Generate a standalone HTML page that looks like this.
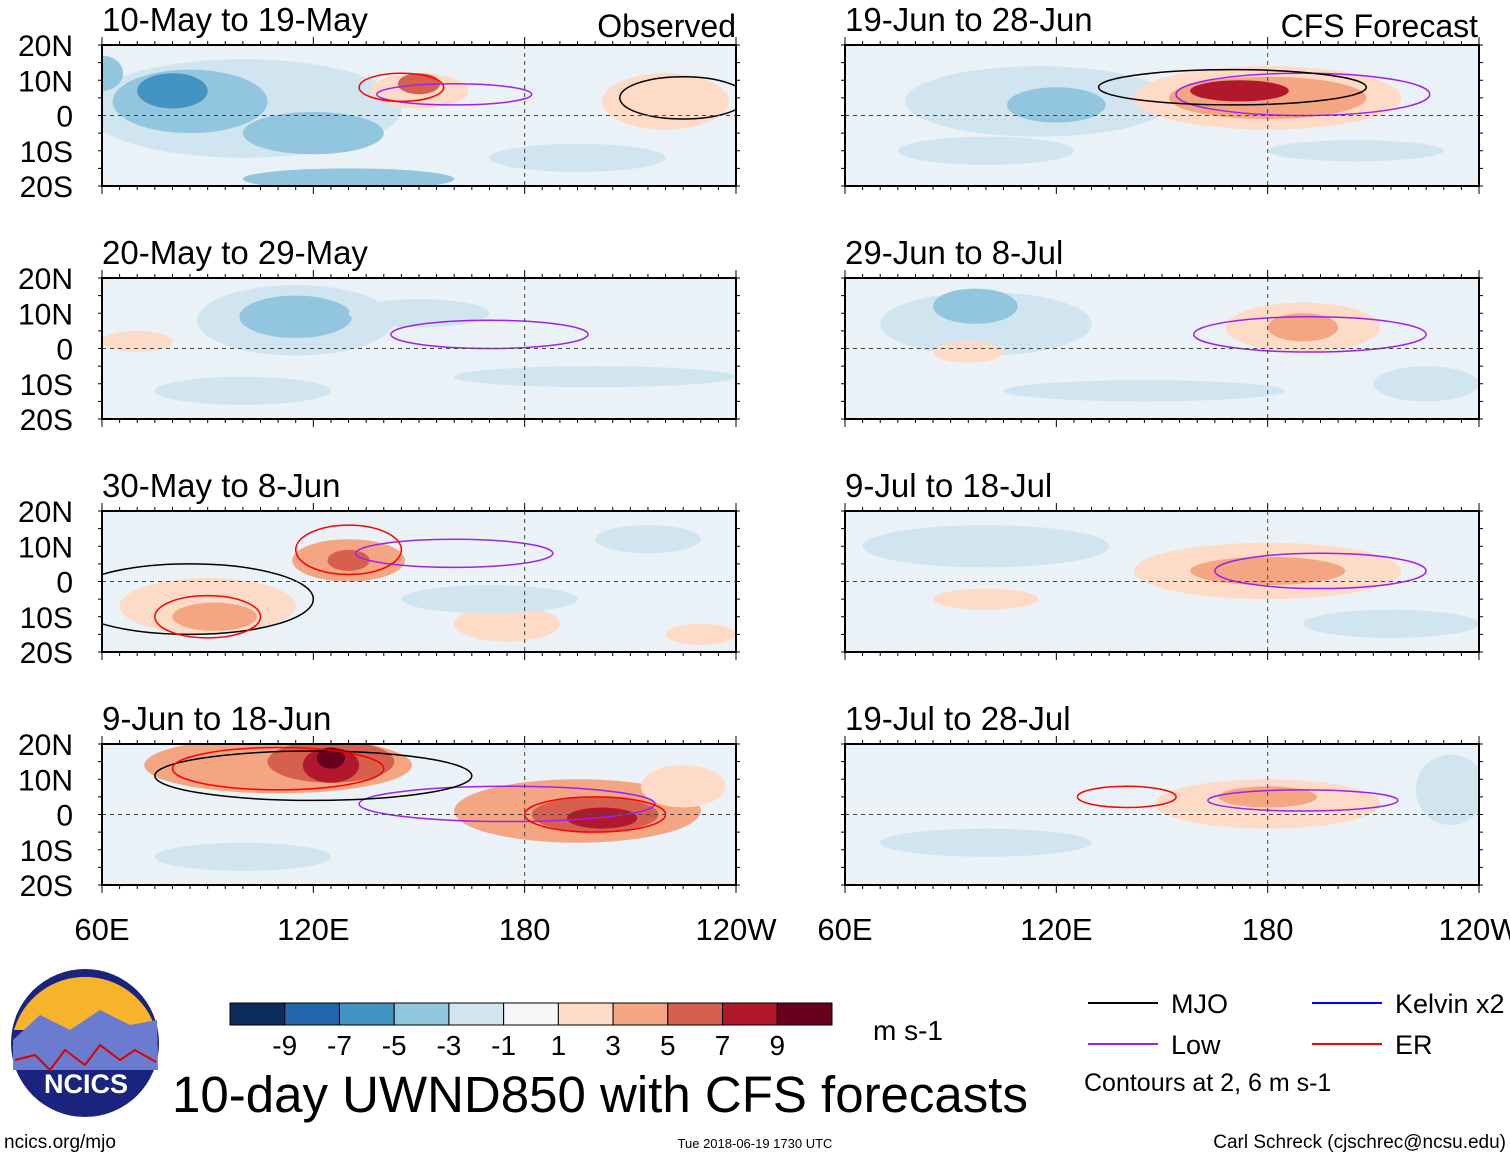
<!DOCTYPE html>
<html><head><meta charset="utf-8"><style>
body{margin:0;background:#fff;font-family:"Liberation Sans",sans-serif}
svg{display:block}
</style></head><body>
<svg id="c" width="1510" height="1158" viewBox="0 0 1510 1158" xmlns="http://www.w3.org/2000/svg" font-family="Liberation Sans, sans-serif"></svg>
<script>
const NS="http://www.w3.org/2000/svg";
const svg=document.getElementById('c');
// data
const panelTitles=["10-May to 19-May","20-May to 29-May","30-May to 8-Jun","9-Jun to 18-Jun","19-Jun to 28-Jun","29-Jun to 8-Jul","9-Jul to 18-Jul","19-Jul to 28-Jul"];
const latTicks=["20N","10N","0","10S","20S"];
const latVals=[20,10,0,-10,-20];
const lonTicks=["60E","120E","180","120W"];
const lonVals=[60,120,180,240];
const levelLabels=["-9","-7","-5","-3","-1","1","3","5","7","9"];
const levelColors=["#0b2d5e","#2166ac","#4393c3","#92c5de","#d1e5f0","#f7f7f7","#fddbc7","#f4a582","#d6604d","#b2182b","#67001f"];
// anomaly blobs per panel: [lon, lat, rxDeg, ryDeg, value]
const blobs=[
 [[100,2,45,14,-2],[85,4,22,9,-4],[80,7,10,5,-6],[120,-5,20,6,-4],[150,7,14,5,2],[150,9,6,3,6],[220,4,18,8,2],[130,-18,30,3,-4],[60,12,6,5,-4],[195,-12,25,4,-2]],
 [[115,8,28,10,-2],[115,9,16,6,-4],[70,2,10,3,2],[200,-8,40,3,-2],[150,10,20,4,-2],[100,-12,25,4,-2]],
 [[90,-7,25,8,2],[92,-10,12,4,4],[130,6,16,6,3],[130,6,6,3,6],[175,-12,15,5,2],[230,-15,10,3,2],[170,-5,25,4,-2],[215,12,15,4,-2]],
 [[110,14,38,8,3],[125,15,18,6,6],[125,14,8,5,8],[125,16,4,3,10],[195,1,35,9,3],[200,0,18,5,5],[202,-1,10,3,7],[225,8,12,6,2],[100,-12,25,4,-2]],
 [[115,4,38,10,-2],[120,3,14,5,-4],[180,5,38,9,2],[180,5,28,6,4],[172,7,14,3,7],[205,-10,25,3,-2],[100,-10,25,4,-2]],
 [[100,7,30,9,-2],[97,12,12,5,-4],[190,6,22,7,2],[190,6,10,4,4],[95,-1,10,3,2],[145,-12,40,3,-2],[225,-10,15,5,-2]],
 [[100,10,35,6,-2],[180,3,38,8,2],[180,3,22,4,4],[100,-5,15,3,2],[215,-12,25,4,-2]],
 [[180,3,32,7,2],[180,5,14,3,3],[232,7,10,10,-2],[100,-8,30,4,-2]],
];
// contours per panel: [type, lon, lat, rxDeg, ryDeg]
const contours=[
 [["low",160,6,22,3],["er",145,8,12,4],["mjo",225,5,18,6]],
 [["low",170,4,28,4]],
 [["low",160,8,28,4],["er",130,9,15,7],["mjo",85,-5,35,10],["er",90,-10,15,6]],
 [["low",175,3,42,5],["er",200,0,20,5],["mjo",120,11,45,7],["er",110,13,30,6]],
 [["low",190,6,36,6],["mjo",170,8,38,5]],
 [["low",192,4,33,5]],
 [["low",195,3,30,5]],
 [["low",190,4,27,3],["er",140,5,14,3]],
];
const legendItems=[["MJO","#000"],["Low","#a020f0"],["Kelvin x2","#0000ff"],["ER","#ff0000"]];

const contourColor={low:"#a020f0",er:"#ff0000",mjo:"#000"};
function el(t,a,p){const e=document.createElementNS(NS,t);for(const k in a)e.setAttribute(k,a[k]);(p||svg).appendChild(e);return e;}
function colorFor(v){let i=Math.floor((v+11)/2);i=Math.max(0,Math.min(10,i));if(v>-1&&v<1)i=5;return levelColors[i];}
const colX=[102,845], rowY=[45,278,511,744], PW=634, PH=141;
for(let p=0;p<8;p++){
  const L=colX[p<4?0:1], T=rowY[p%4];
  const x=lon=>L+(lon-60)/180*PW, y=lat=>T+(20-lat)/40*PH;
  const g=el('g',{'clip-path':`url(#cl${p})`});
  
  
  const cp=el('clipPath',{id:'cl'+p});el('rect',{x:L,y:T,width:PW,height:PH},cp);
  el('rect',{x:L,y:T,width:PW,height:PH,fill:"#eaf2f7"},g);
  for(const b of blobs[p]){
    const e=el('ellipse',{cx:x(b[0]),cy:y(b[1]),rx:b[2]/180*PW,ry:b[3]/40*PH,fill:colorFor(b[4])},g);
    
    
  }
  for(const c of contours[p]){
    const e=el('ellipse',{cx:x(c[1]),cy:y(c[2]),rx:c[3]/180*PW,ry:c[4]/40*PH,fill:"none",stroke:contourColor[c[0]],'stroke-width':1.5},g);
    
    
  }
  el('line',{x1:L,x2:L+PW,y1:y(0),y2:y(0),stroke:"#444",'stroke-dasharray':"4,4"},g);
  el('line',{x1:x(180),x2:x(180),y1:T,y2:T+PH,stroke:"#444",'stroke-dasharray':"4,4"},g);
  el('rect',{x:L,y:T,width:PW,height:PH,fill:"none",stroke:"#000",'stroke-width':2});
  for(let lon=60;lon<=240;lon+=5){const len=lon%60==0?8:4;el('line',{x1:x(lon),x2:x(lon),y1:T,y2:T-len,stroke:"#000"});el('line',{x1:x(lon),x2:x(lon),y1:T+PH,y2:T+PH+len,stroke:"#000"});}
  for(let lat=-20;lat<=20;lat+=5){el('line',{x1:L,x2:L-4,y1:y(lat),y2:y(lat),stroke:"#000"});el('line',{x1:L+PW,x2:L+PW+4,y1:y(lat),y2:y(lat),stroke:"#000"});}
  const t=el('text',{x:L,y:T-14,'font-size':33});t.textContent=panelTitles[p];
  
  
  if(p<4){latTicks.forEach((s,i)=>{const tt=el('text',{x:73,y:y(latVals[i])+11,'font-size':30,'text-anchor':'end'});tt.textContent=s;
    
    });}
  if(p%4==3){lonTicks.forEach((s,i)=>{const tt=el('text',{x:x(lonVals[i]),y:940,'font-size':31,'text-anchor':'middle'});tt.textContent=s;
    
    });}
}
const o=el('text',{x:736,y:37,'font-size':32,'text-anchor':'end'});o.textContent="Observed";

const f=el('text',{x:1478,y:37,'font-size':32,'text-anchor':'end'});f.textContent="CFS Forecast";

// colorbar
const cbL=230,cbW=602/11;
levelColors.forEach((c,i)=>{const r=el('rect',{x:cbL+i*cbW,y:1003,width:cbW,height:22,fill:c,stroke:"#000"});
  });
levelLabels.forEach((s,i)=>{const t=el('text',{x:cbL+(i+1)*cbW,y:1055,'font-size':28,'text-anchor':'middle'});t.textContent=s;
  });
const u=el('text',{x:873,y:1040,'font-size':28});u.textContent="m s-1";

// legend
legendItems.forEach((it,i)=>{const lx=i<2?1088:1312,ly=1003+(i%2)*41;
  el('line',{x1:lx,x2:lx+70,y1:ly,y2:ly,stroke:it[1],'stroke-width':2});
  const t=el('text',{x:lx+83,y:ly+10,'font-size':27});t.textContent=it[0];
  });
const ct=el('text',{x:1084,y:1091,'font-size':25});ct.textContent="Contours at 2, 6 m s-1";

const ti=el('text',{x:172,y:1112,'font-size':51});ti.textContent="10-day UWND850 with CFS forecasts";

// logo
const lg=el('g',{});
el('circle',{cx:85,cy:1043,r:74,fill:"#1a237e"},lg);
el('path',{d:"M14,1030 A74,74 0 0 1 156,1030 Z",fill:"#f6b42c"},lg);
el('path',{d:"M13,1040 L40,1015 L70,1030 L100,1010 L130,1025 L157,1020 L158,1070 L13,1070 Z",fill:"#6a7bd0"},lg);
el('path',{d:"M15,1060 L35,1055 L50,1070 L65,1050 L85,1065 L100,1045 L120,1060 L135,1050 L156,1062",fill:"none",stroke:"#d00",'stroke-width':2},lg);
const nt=el('text',{x:86,y:1093,'font-size':27,'font-weight':'bold',fill:"#fff",'text-anchor':'middle'},lg);nt.textContent="NCICS";
const s1=el('text',{x:4,y:1148,'font-size':19});s1.textContent="ncics.org/mjo";

const s2=el('text',{x:755,y:1148,'font-size':13,'text-anchor':'middle'});s2.textContent="Tue 2018-06-19 1730 UTC";

const s3=el('text',{x:1506,y:1148,'font-size':19,'text-anchor':'end'});s3.textContent="Carl Schreck (cjschrec@ncsu.edu)";

</script>
</body></html>
